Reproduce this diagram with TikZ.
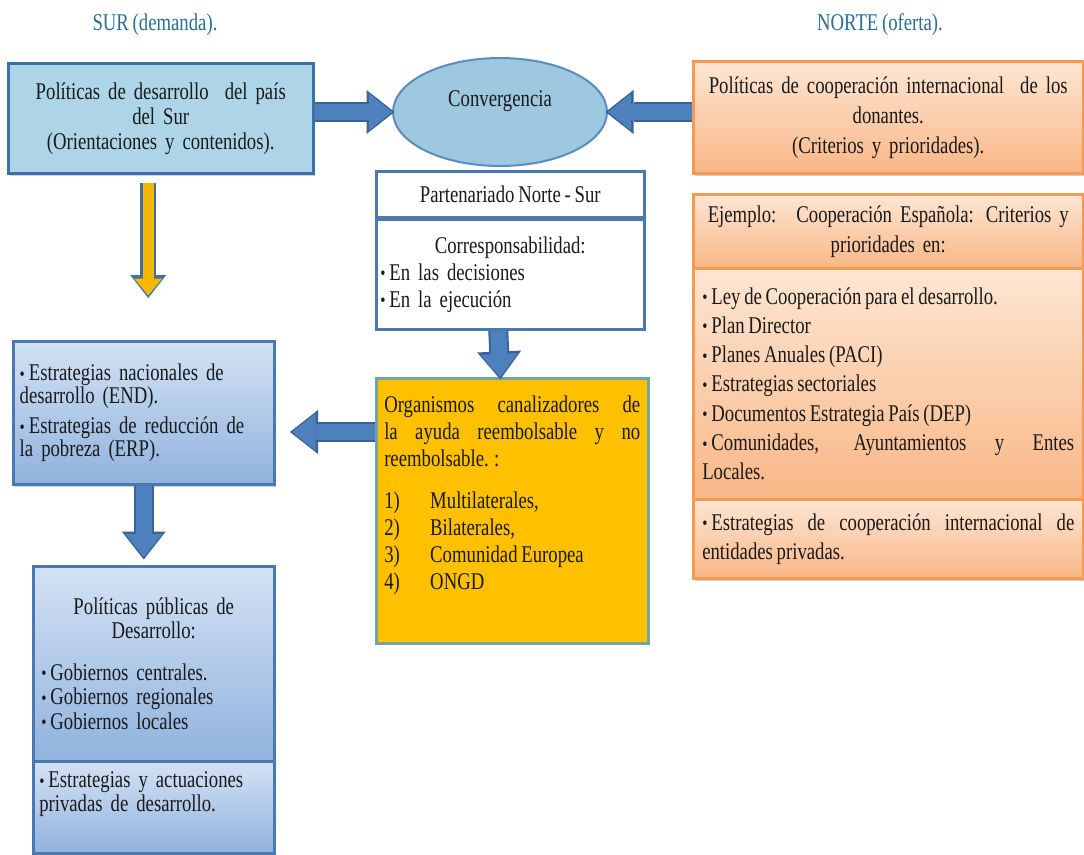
\documentclass[tikz,border=0pt]{standalone}
\usepackage{fontspec}
\setmainfont{Liberation Serif}[FakeStretch=0.78,WordSpace=0.8]
\usepackage{tikz}
\usetikzlibrary{positioning,arrows.meta,calc,shadows,shapes.geometric}
\definecolor{surfill}{HTML}{AED5E7}
\definecolor{surline}{HTML}{3E6FA6}
\definecolor{convfill}{HTML}{9DC8DF}
\definecolor{convline}{HTML}{5B8CC2}
\definecolor{blueline}{HTML}{4A78B0}
\definecolor{bluetop}{HTML}{D3E2F4}
\definecolor{bluebot}{HTML}{90B2DE}
\definecolor{orgfill}{HTML}{FFC000}
\definecolor{orgline}{HTML}{6FA7A6}
\definecolor{orline}{HTML}{F59A52}
\definecolor{ortop}{HTML}{FDE6D3}
\definecolor{orbot}{HTML}{F9B786}
\definecolor{arrowfill}{HTML}{4E80BE}
\definecolor{arrowline}{HTML}{3A6496}
\definecolor{goldfill}{HTML}{F4B800}
\definecolor{titleink}{HTML}{2A6F90}
\definecolor{ink}{HTML}{1A1A1A}
\newcommand{\bul}{\raisebox{0.5pt}{\fontsize{19}{19}\selectfont\textbullet}\,}
\newcommand{\numlab}[1]{\makebox[46pt][l]{#1}}
\tikzset{
  panel/.style={draw=#1,line width=2.5pt,anchor=north west,inner sep=0pt,text=ink,align=center},
  txt/.style={font=\fontsize{24}{#1}\selectfont},
  txt/.default=27pt,
  castshadow/.style={drop shadow={shadow xshift=2pt,shadow yshift=-2.5pt,opacity=0.3,fill=black!60}},
  bluepanel/.style={panel=blueline,top color=bluetop,bottom color=bluebot,castshadow},
  orpanel/.style={panel=orline,top color=ortop,bottom color=orbot,castshadow},
  sidetitle/.style={text=titleink,font=\fontsize{24}{26}\selectfont},
  bigarrow/.style={draw=arrowfill,line width=16pt,-{Triangle[length=23pt,width=37pt,line width=0pt]},
    preaction={draw=arrowline,line width=20pt,-{Triangle[length=28pt,width=44pt,line width=0pt]},shorten >=-2.5pt}},
  goldarrow/.style={draw=goldfill,line width=11pt,-{Triangle[length=17pt,width=28pt,line width=0pt]},
    preaction={draw=surline,line width=16pt,-{Triangle[length=23pt,width=36pt,line width=0pt]},shorten >=-2.5pt}},
}
\begin{document}
\begin{tikzpicture}[x=1pt,y=-1pt]
  \fill[white] (0,0) rectangle (1084,854);
  \useasboundingbox (0,0) rectangle (1084,854);
  % column titles
  \node[sidetitle] (surtit) at (155,25) {SUR (demanda).};
  \node[sidetitle] (nortetit) at (880,25) {NORTE (oferta).};
  % south side
  \node[panel=surline,fill=surfill,castshadow,txt=25pt,minimum width=305pt,minimum height=110pt,text width=295pt] (sur) at (7,62)
    {Políticas de desarrollo~ del país\\ del Sur\\ (Orientaciones y contenidos).};
  \node[bluepanel,txt=23pt,minimum width=261pt,minimum height=143pt,text width=248pt,align=left] (endbox) at (12,340)
    {\bul Estrategias nacionales de\\ desarrollo (END).\\[7pt] \bul Estrategias de reducción de\\ la pobreza (ERP).};
  \node[bluepanel,txt=24.5pt,minimum width=241pt,minimum height=195pt,text width=225pt,align=left] (polhead) at (32,565)
    {\makebox[\linewidth]{Políticas públicas de}\\ \makebox[\linewidth]{Desarrollo:}\\[17pt]
     \bul Gobiernos centrales.\\ \bul Gobiernos regionales\\ \bul Gobiernos locales};
  \node[bluepanel,txt=24pt,minimum width=241pt,minimum height=92pt,text width=229pt,align=left] (polpriv) at (32,760)
    {\bul Estrategias y actuaciones\\ privadas de desarrollo.\\ \strut};
  % centre
  \node[ellipse,draw=convline,fill=convfill,line width=2pt,minimum width=214pt,minimum height=108pt,inner sep=0pt,
        txt,text=ink,text height=17pt,text depth=29pt] (conv) at (500,112) {Convergencia};
  \node[panel=blueline,fill=white,txt,minimum width=268pt,minimum height=46pt] (parthead) at (375,170) {Partenariado Norte - Sur};
  \node[panel=blueline,fill=white,txt,minimum width=268pt,minimum height=110pt,text width=260pt,align=left] (partbody) at (375,218)
    {\makebox[\linewidth]{Corresponsabilidad:}\\ \bul En las decisiones\\ \bul En la ejecución};
  \node[panel=orgline,fill=orgfill,txt,minimum width=272pt,minimum height=265pt,text width=256pt,align=justify] (org) at (375,377)
    {Organismos canalizadores de\linebreak la ayuda reembolsable y no\linebreak reembolsable. :\\[15pt]
     \numlab{1)}Multilaterales,\\ \numlab{2)}Bilaterales,\\ \numlab{3)}Comunidad Europea\\ \numlab{4)}ONGD\\[10pt]};
  % north side
  \node[orpanel,txt=30pt,minimum width=390pt,minimum height=112pt,text width=380pt] (norte1) at (692,60)
    {Políticas de cooperación internacional~ de los\\ donantes.\\ (Criterios y prioridades).};
  \node[orpanel,txt=30pt,minimum width=390pt,minimum height=74pt,text width=380pt] (ejhead) at (692,193)
    {Ejemplo:~ Cooperación Española: Criterios y\\ prioridades en:};
  \node[orpanel,txt=29.3pt,minimum width=390pt,minimum height=231pt,text width=372pt,align=justify] (ejlist) at (692,267)
    {\bul Ley de Cooperación para el desarrollo.\\ \bul Plan Director\\ \bul Planes Anuales (PACI)\\ \bul Estrategias sectoriales\\
     \bul Documentos Estrategia País (DEP)\\ \bul Comunidades, Ayuntamientos y Entes\linebreak Locales.};
  \node[orpanel,txt=29pt,minimum width=390pt,minimum height=79pt,text width=372pt,align=justify] (ejpriv) at (692,498)
    {\bul Estrategias de cooperación internacional de\linebreak entidades privadas.};
  % arrows
  \draw[bigarrow] (sur.east |- conv.center) -- (conv.west);
  \draw[bigarrow] (norte1.west |- conv.center) -- (conv.east);
  \draw[bigarrow] ([xshift=-12pt]partbody.south) -- ([xshift=-12pt]org.north);
  \coordinate (orgarm) at ([yshift=-55pt]org.north west);
  \draw[bigarrow] (orgarm) -- ([xshift=17pt]orgarm -| endbox.east);
  \draw[bigarrow] (endbox.south) -- ([yshift=8pt]endbox.south |- polhead.north);
  \coordinate (goldtop) at ([xshift=-12.5pt,yshift=-8pt]sur.south);
  \draw[goldarrow] (goldtop) -- ++(0,113);
\end{tikzpicture}
\end{document}
